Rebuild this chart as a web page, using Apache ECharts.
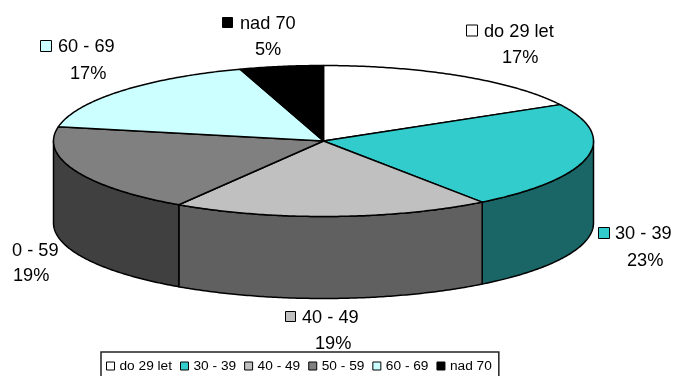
<!DOCTYPE html>
<html>
<head>
<meta charset="utf-8">
<style>html,body{margin:0;padding:0;background:#fff}#chart{width:676px;height:376px}</style>
<script src="https://cdn.jsdelivr.net/npm/echarts@6/dist/echarts.min.js"></script>
</head>
<body>
<div id="chart"></div>
<script>
// Age groups and their share in percent
const categories = ['do 29 let', '30 - 39', '40 - 49', '50 - 59', '60 - 69', 'nad 70'];
const shares = [17, 23, 19, 19, 17, 5];
const captions = ['do 29 let', '30 - 39', '40 - 49', '0 - 59', '60 - 69', 'nad 70'];
const topColors = ['#FFFFFF', '#33CCCC', '#C0C0C0', '#808080', '#CCFFFF', '#000000'];
const sideColors = ['#808080', '#1A6666', '#606060', '#404040', '#668080', '#000000'];

// Disc geometry: flattened ellipse plus extruded wall
const disc = { cx: 323.5, cy: 141, rx: 270, ry: 75.5, depth: 82 };

// Label placement: swatch corner, caption start, percent start (text centre heights)
const labelLayout = [
  { sx: 466, sy: 24.5, s: 12, tx: 484, ty: 32, px: 502, py: 58 },
  { sx: 598, sy: 227, s: 12, tx: 615, ty: 234, px: 627, py: 261 },
  { sx: 285, sy: 311, s: 11, tx: 302, ty: 318, px: 315, py: 344 },
  { sx: null, sy: null, s: 0, tx: 12, ty: 251, px: 13, py: 276 },
  { sx: 40, sy: 40, s: 12, tx: 58, ty: 47, px: 70, py: 74 },
  { sx: 222, sy: 17, s: 11, tx: 240, ty: 24, px: 255, py: 50 }
];

const total = shares.reduce((a, b) => a + b, 0);

// Point on the top ellipse; angle in radians, clockwise from twelve o'clock
function rimPoint(a, dy) {
  return [disc.cx + disc.rx * Math.sin(a), disc.cy - disc.ry * Math.cos(a) + (dy || 0)];
}
function arcPoints(a0, a1, dy) {
  const n = Math.max(2, Math.ceil(Math.abs(a1 - a0) / 0.01));
  const pts = [];
  for (let i = 0; i <= n; i++) pts.push(rimPoint(a0 + (a1 - a0) * i / n, dy));
  return pts;
}

function renderSlice(idx) {
  return function (params, api) {
    const a0 = api.value(0) / total * 2 * Math.PI;
    const a1 = api.value(1) / total * 2 * Math.PI;
    const children = [];
    // The wall only shows along the front half of the rim
    const w0 = Math.max(a0, Math.PI / 2);
    const w1 = Math.min(a1, Math.PI * 1.5);
    if (w1 > w0) {
      const wall = arcPoints(w0, w1, 0).concat(arcPoints(w1, w0, disc.depth));
      children.push({
        type: 'polygon', z2: 1,
        shape: { points: wall },
        style: { fill: sideColors[idx], stroke: '#000', lineWidth: 1.5, lineJoin: 'round' }
      });
    }
    const top = [[disc.cx, disc.cy]].concat(arcPoints(a0, a1, 0));
    children.push({
      type: 'polygon', z2: 2,
      shape: { points: top },
      style: { fill: topColors[idx], stroke: '#000', lineWidth: 1.5, lineJoin: 'round' }
    });
    return { type: 'group', children };
  };
}

let running = 0;
const series = categories.map((name, i) => {
  const start = running;
  running += shares[i];
  return {
    type: 'custom',
    name,
    coordinateSystem: 'none',
    silent: true,
    itemStyle: { color: topColors[i] },
    renderItem: renderSlice(i),
    data: [[start, running]]
  };
});

const labelFont = '"Liberation Sans", Arial, sans-serif';
const labelGraphics = [];
labelLayout.forEach((p, i) => {
  if (p.sx !== null) {
    labelGraphics.push({
      type: 'rect', silent: true,
      shape: { x: p.sx + 0.5, y: p.sy + 0.5, width: p.s - 1, height: p.s - 1 },
      style: { fill: topColors[i], stroke: '#000', lineWidth: 1 }
    });
  }
  labelGraphics.push({
    type: 'text', silent: true, x: p.tx, y: p.ty,
    style: { text: captions[i], fill: '#000', font: '18.2px ' + labelFont, textAlign: 'left', textVerticalAlign: 'middle' }
  });
  labelGraphics.push({
    type: 'text', silent: true, x: p.px, y: p.py,
    style: { text: shares[i] + '%', fill: '#000', font: '18.2px ' + labelFont, textAlign: 'left', textVerticalAlign: 'middle' }
  });
});

const chart = echarts.init(document.getElementById('chart'), null, { renderer: 'canvas' });
chart.setOption({
  animation: false,
  backgroundColor: '#fff',
  legend: {
    left: 101,
    top: 352,
    data: categories.map(name => ({ name, icon: 'rect' })),
    orient: 'horizontal',
    itemWidth: 8,
    itemHeight: 8,
    itemGap: 8,
    padding: [7, 7, 12, 5],
    borderColor: '#222',
    borderWidth: 1.5,
    selectedMode: false,
    itemStyle: { borderColor: '#000', borderWidth: 1 },
    textStyle: { color: '#000', fontSize: 13.7, fontFamily: labelFont }
  },
  series,
  graphic: labelGraphics
});
</script>
</body>
</html>
